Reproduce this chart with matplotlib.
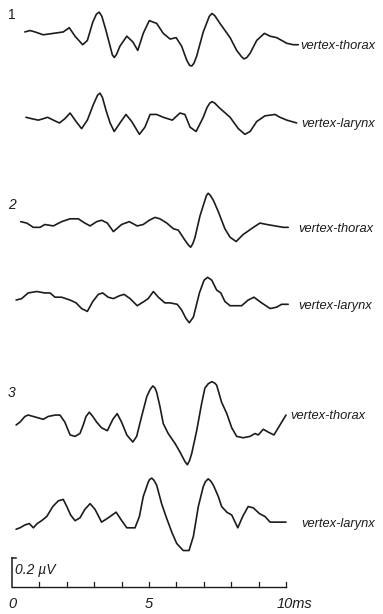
import matplotlib
matplotlib.use("Agg")
import matplotlib.pyplot as plt

# Time (ms) and amplitude (µV, relative to each trace's start level)
t_1_thorax = [0.47, 0.66, 0.84, 1.14, 1.51, 1.87, 2.09, 2.30, 2.58, 2.75, 2.95, 3.08, 3.18, 3.28,
              3.43, 3.58, 3.66, 3.73, 3.81, 3.94, 4.19, 4.41, 4.59, 4.79, 5.01, 5.28, 5.52, 5.77,
              5.99, 6.19, 6.38, 6.48, 6.56, 6.64, 6.74, 6.98, 7.10, 7.20, 7.30, 7.40, 7.59, 7.96,
              8.20, 8.38, 8.47, 8.57, 8.69, 8.93, 9.21, 9.42, 9.66, 10.03, 10.27, 10.45]
v_1_thorax = [0.00, 0.01, 0.00, -0.02, -0.01, 0.00, 0.03, -0.03, -0.09, -0.06, 0.07, 0.125, 0.14, 0.11,
              0.01, -0.10, -0.16, -0.18, -0.16, -0.10, -0.03, -0.07, -0.13, -0.01, 0.08, 0.06, -0.01, -0.05,
              -0.04, -0.10, -0.20, -0.235, -0.24, -0.22, -0.17, 0.00, 0.06, 0.11, 0.13, 0.115, 0.06, -0.04,
              -0.13, -0.175, -0.19, -0.18, -0.15, -0.06, -0.01, -0.03, -0.04, -0.08, -0.09, -0.09]

t_1_larynx = [0.51, 0.72, 0.96, 1.14, 1.30, 1.51, 1.73, 1.93, 2.12, 2.34, 2.54, 2.75, 2.97, 3.12,
              3.21, 3.30, 3.43, 3.58, 3.73, 3.94, 4.16, 4.37, 4.65, 4.85, 5.04, 5.28, 5.52, 5.85,
              6.13, 6.31, 6.50, 6.72, 6.98, 7.12, 7.22, 7.30, 7.40, 7.55, 7.96, 8.26, 8.50, 8.69,
              8.93, 9.23, 9.60, 9.78, 10.03, 10.39]
v_1_larynx = [0.00, -0.01, -0.02, -0.01, 0.00, -0.02, -0.04, -0.01, 0.03, -0.03, -0.08, -0.02, 0.09, 0.155,
              0.17, 0.14, 0.05, -0.04, -0.10, -0.04, 0.02, -0.03, -0.12, -0.07, 0.02, 0.02, 0.00, -0.02,
              0.03, 0.02, -0.07, -0.10, 0.00, 0.07, 0.10, 0.11, 0.10, 0.07, 0.00, -0.08, -0.12, -0.10,
              -0.03, 0.01, 0.02, 0.00, -0.02, -0.04]

t_2_thorax = [0.32, 0.54, 0.78, 1.02, 1.20, 1.51, 1.81, 2.12, 2.42, 2.66, 2.85, 3.09, 3.27, 3.48,
              3.70, 4.00, 4.28, 4.57, 4.79, 5.01, 5.22, 5.40, 5.65, 5.89, 6.07, 6.31, 6.44, 6.52,
              6.60, 6.68, 6.86, 7.04, 7.10, 7.16, 7.24, 7.35, 7.53, 7.77, 7.96, 8.18, 8.44, 8.81,
              9.05, 9.30, 9.60, 9.90, 10.08]
v_2_thorax = [0.00, -0.01, -0.04, -0.04, -0.02, -0.03, 0.00, 0.02, 0.02, -0.01, -0.03, 0.00, 0.01, -0.01,
              -0.07, -0.02, 0.00, -0.03, -0.02, 0.01, 0.03, 0.02, -0.01, -0.05, -0.06, -0.13, -0.165, -0.18,
              -0.155, -0.11, 0.04, 0.15, 0.185, 0.20, 0.185, 0.15, 0.07, -0.05, -0.11, -0.14, -0.09, -0.04,
              -0.01, -0.02, -0.03, -0.04, -0.04]

t_2_larynx = [0.15, 0.35, 0.47, 0.59, 0.90, 1.20, 1.39, 1.57, 1.81, 2.12, 2.34, 2.54, 2.75, 2.95,
              3.15, 3.31, 3.51, 3.70, 3.92, 4.09, 4.31, 4.57, 4.82, 4.97, 5.16, 5.34, 5.58, 5.77,
              6.03, 6.19, 6.35, 6.47, 6.62, 6.84, 7.01, 7.14, 7.29, 7.47, 7.62, 7.77, 7.96, 8.38,
              8.62, 8.83, 9.11, 9.42, 9.66, 9.84, 10.08]
v_2_larynx = [0.00, 0.01, 0.03, 0.05, 0.06, 0.05, 0.05, 0.02, 0.02, 0.00, -0.02, -0.06, -0.08, -0.01,
              0.04, 0.05, 0.02, 0.01, 0.03, 0.04, 0.01, -0.04, -0.01, 0.01, 0.06, 0.02, -0.02, -0.02,
              -0.03, -0.07, -0.13, -0.16, -0.12, 0.05, 0.14, 0.16, 0.14, 0.07, 0.05, -0.01, -0.04, -0.04,
              0.00, 0.02, -0.02, -0.06, -0.05, -0.03, -0.03]

t_3_thorax = [0.15, 0.29, 0.47, 0.59, 0.78, 0.96, 1.14, 1.32, 1.57, 1.75, 1.93, 2.12, 2.30, 2.48,
              2.60, 2.70, 2.82, 2.95, 3.09, 3.27, 3.48, 3.68, 3.84, 4.00, 4.19, 4.41, 4.55, 4.73,
              4.92, 5.04, 5.14, 5.22, 5.28, 5.40, 5.52, 5.70, 5.95, 6.13, 6.32, 6.40, 6.48, 6.56,
              6.74, 6.92, 7.04, 7.16, 7.29, 7.40, 7.47, 7.65, 7.84, 8.02, 8.20, 8.44, 8.69, 8.87,
              8.99, 9.17, 9.35, 9.56, 9.78, 10.00]
v_3_thorax = [0.00, 0.02, 0.06, 0.07, 0.06, 0.05, 0.04, 0.06, 0.07, 0.07, 0.02, -0.07, -0.08, -0.06,
              0.00, 0.06, 0.09, 0.06, 0.02, -0.02, -0.04, 0.04, 0.08, 0.02, -0.07, -0.12, -0.08, 0.06,
              0.20, 0.25, 0.275, 0.26, 0.23, 0.13, 0.01, -0.06, -0.13, -0.19, -0.26, -0.28, -0.25, -0.20,
              -0.04, 0.15, 0.26, 0.29, 0.305, 0.295, 0.28, 0.16, 0.08, -0.02, -0.08, -0.09, -0.08, -0.06,
              -0.07, -0.03, -0.05, -0.07, 0.00, 0.07]

t_3_larynx = [0.15, 0.29, 0.47, 0.63, 0.78, 0.92, 1.08, 1.27, 1.49, 1.69, 1.87, 2.00, 2.14, 2.30,
              2.48, 2.66, 2.85, 3.03, 3.27, 3.51, 3.80, 3.97, 4.19, 4.49, 4.65, 4.79, 4.97, 5.02,
              5.10, 5.18, 5.28, 5.46, 5.62, 5.83, 6.01, 6.25, 6.46, 6.62, 6.80, 6.98, 7.06, 7.16,
              7.25, 7.35, 7.53, 7.65, 7.84, 8.02, 8.24, 8.42, 8.62, 8.81, 9.03, 9.23, 9.42, 9.66,
              10.00]
v_3_larynx = [0.00, 0.01, 0.03, 0.04, 0.01, 0.04, 0.06, 0.09, 0.16, 0.20, 0.21, 0.16, 0.10, 0.06,
              0.08, 0.14, 0.18, 0.14, 0.05, 0.08, 0.12, 0.07, 0.01, 0.01, 0.09, 0.23, 0.33, 0.35,
              0.36, 0.345, 0.31, 0.18, 0.09, -0.02, -0.10, -0.15, -0.15, -0.05, 0.16, 0.30, 0.335, 0.355,
              0.34, 0.31, 0.23, 0.16, 0.12, 0.10, 0.01, 0.09, 0.16, 0.15, 0.11, 0.09, 0.05, 0.05,
              0.05]

trace_names = ["vertex-thorax", "vertex-larynx"] * 3
group_labels = ["1", "2", "3"]
x_tick_labels = ["0", "5", "10ms"]
scale_label = "0.2 µV"

traces = [(t_1_thorax, v_1_thorax), (t_1_larynx, v_1_larynx),
          (t_2_thorax, v_2_thorax), (t_2_larynx, v_2_larynx),
          (t_3_thorax, v_3_thorax), (t_3_larynx, v_3_larynx)]

# Vertical stacking of the traces (µV) and label placement (ms)
offsets = [-0.225, -0.826, -1.561, -2.113, -2.993, -3.727]
label_x = [10.51, 10.57, 10.45, 10.45, 10.15, 10.57]
group_y = [-0.106, -1.444, -2.765]
group_style = ["normal", "italic", "italic"]

INK = "#1c1c1c"
LW = 1.2

fig = plt.figure(figsize=(3.83, 6.14), dpi=100)
ax = fig.add_axes([0, 0, 1, 1])
ax.set_xlim(-0.438, 13.540)
ax.set_ylim(-4.324, 0.0)
ax.axis("off")

for (t, v), off, name, lx in zip(traces, offsets, trace_names, label_x):
    y = [off + val for val in v]
    ax.plot(t, y, color=INK, lw=LW, solid_joinstyle="round", solid_capstyle="round")
    ax.text(lx, y[-1] - 0.01, name, fontsize=9.3, style="italic",
            family="Liberation Sans", color=INK, ha="left", va="center")

for lab, gy, st in zip(group_labels, group_y, group_style):
    ax.text(0.0, gy, lab, fontsize=10, style=st, family="Liberation Sans",
            color=INK, ha="center", va="center")

# Time axis with 1 ms ticks and a 0.2 µV calibration bar
axis_y = -4.132
tick_len = 0.035
ax.plot([0, 10], [axis_y, axis_y], color=INK, lw=1.0)
for ms in range(1, 11):
    ax.plot([ms, ms], [axis_y, axis_y + tick_len], color=INK, lw=0.9)
ax.plot([0, 0], [axis_y, axis_y + 0.2], color=INK, lw=1.1)
ax.plot([0, 0.15], [axis_y + 0.2, axis_y + 0.2], color=INK, lw=1.1)
ax.text(0.12, axis_y + 0.115, scale_label, fontsize=10, style="italic",
        family="Liberation Sans", color=INK, ha="left", va="center")

ax.text(0, -4.254, x_tick_labels[0], fontsize=10.5, style="italic",
        family="Liberation Sans", color=INK, ha="center", va="center")
ax.text(5, -4.254, x_tick_labels[1], fontsize=10.5, style="italic",
        family="Liberation Sans", color=INK, ha="center", va="center")
ax.text(9.67, -4.254, x_tick_labels[2], fontsize=10.5, style="italic",
        family="Liberation Sans", color=INK, ha="left", va="center")

fig.savefig("out.png", dpi=100, facecolor="white")
